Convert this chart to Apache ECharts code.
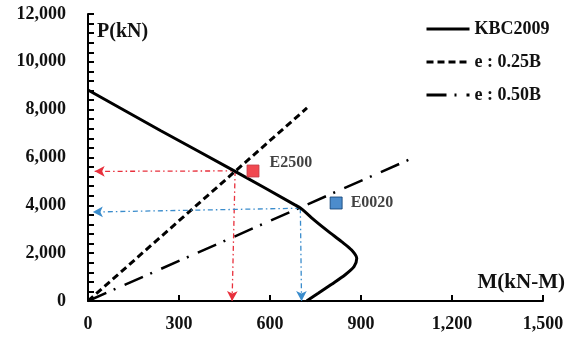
<!DOCTYPE html>
<html>
<head>
<meta charset="utf-8">
<script src="https://cdn.jsdelivr.net/npm/echarts@6/dist/echarts.min.js"></script>
<style>
html,body{margin:0;padding:0;background:#fff;}
#chart{width:573px;height:341px;}
</style>
</head>
<body>
<div id="chart"></div>
<script>
// ---- data ----
const kbcM = [0, 240, 485, 682, 704, 748, 792, 836, 869, 886, 877, 847, 803, 759, 721];
const kbcP = [8820, 7120, 5420, 4020, 3850, 3360, 2910, 2480, 2130, 1785, 1434, 1087, 698, 322, 0];
const e025M = [0, 722];
const e025P = [0, 8070];
const e050M = [0, 1071];
const e050P = [0, 5980];
const specNames = ['E2500', 'E0020'];
const specM = [544, 818];
const specP = [5435, 4097];
// guide arrows: [fromM, fromP, toM, toP]
const redGuides = [[485, 5440, 22, 5420], [485, 5440, 475, 0]];
const blueGuides = [[700, 3880, 16, 3720], [700, 3880, 704, 0]];
const legendNames = ['KBC2009', 'e : 0.25B', 'e : 0.50B'];
const xName = 'M(kN-M)';
const yName = 'P(kN)';

const zip = (a, b) => a.map((v, i) => [v, b[i]]);
const FONT = "'Liberation Serif','Times New Roman',serif";
const TXT = '#111';
const RED = '#e8303c';
const BLUE = '#3a8ccc';

function guideLines(g) {
  return g.map(s => [{coord: [s[0], s[1]]}, {coord: [s[2], s[3]]}]);
}

const chart = echarts.init(document.getElementById('chart'), null, {renderer: 'canvas'});
chart.setOption({
  backgroundColor: '#fff',
  animation: false,
  grid: {left: 88, top: 14, right: 30, bottom: 40, containLabel: false},
  legend: {
    data: legendNames,
    orient: 'vertical',
    left: 420,
    top: 15,
    itemWidth: 43,
    itemHeight: 14,
    itemGap: 15,
    itemStyle: {opacity: 0},
    lineStyle: {width: 3},
    textStyle: {fontFamily: FONT, fontWeight: 'bold', fontSize: 18, color: TXT}
  },
  xAxis: {
    type: 'value', min: 0, max: 1500, interval: 300,
    name: xName, nameLocation: 'end', nameGap: 22,
    nameTextStyle: {fontFamily: FONT, fontWeight: 'bold', fontSize: 21, color: TXT, align: 'right', verticalAlign: 'bottom', padding: [0, 0, 8, 0]},
    axisLine: {lineStyle: {color: '#000', width: 2}},
    axisTick: {inside: true, length: 6, lineStyle: {color: '#000', width: 2}},
    axisLabel: {margin: 14, fontFamily: FONT, fontWeight: 'bold', fontSize: 18, color: TXT,
      formatter: v => v.toLocaleString('en-US')},
    splitLine: {show: false}
  },
  yAxis: {
    type: 'value', min: 0, max: 12000, interval: 2000,
    name: yName, nameLocation: 'end', nameGap: -8,
    nameTextStyle: {fontFamily: FONT, fontWeight: 'bold', fontSize: 20, color: TXT, align: 'left', verticalAlign: 'top', padding: [0, 0, 0, 9]},
    axisLine: {show: true, lineStyle: {color: '#000', width: 2}},
    axisTick: {show: true, inside: true, length: 6, lineStyle: {color: '#000', width: 2}},
    minorTick: {show: true, splitNumber: 5, length: 6, lineStyle: {color: '#000', width: 2}},
    axisLabel: {margin: 22, fontFamily: FONT, fontWeight: 'bold', fontSize: 18, color: TXT,
      formatter: v => v.toLocaleString('en-US')},
    splitLine: {show: false}
  },
  series: [
    {
      name: legendNames[0], type: 'line', data: zip(kbcM, kbcP), smooth: 0.25,
      symbol: 'none', lineStyle: {color: '#000', width: 3}, itemStyle: {color: '#000'}, z: 5
    },
    {
      name: legendNames[1], type: 'line', data: zip(e025M, e025P),
      symbol: 'none', lineStyle: {color: '#000', width: 3, type: [7, 4]}, itemStyle: {color: '#000'}, z: 4
    },
    {
      name: legendNames[2], type: 'line', data: zip(e050M, e050P),
      symbol: 'none', lineStyle: {color: '#000', width: 2.5, type: [20, 8, 2, 10]}, itemStyle: {color: '#000'}, z: 4
    },
    {
      name: 'redGuide', type: 'scatter', data: [], z: 3,
      markLine: {
        silent: true, animation: false, symbol: ['none', 'arrow'], symbolSize: [8, 10],
        label: {show: false},
        lineStyle: {color: RED, width: 1.3, type: [5, 3, 1.5, 3]},
        emphasis: {disabled: true},
        data: guideLines(redGuides)
      }
    },
    {
      name: 'blueGuide', type: 'scatter', data: [], z: 3,
      markLine: {
        silent: true, animation: false, symbol: ['none', 'arrow'], symbolSize: [8, 10],
        label: {show: false},
        lineStyle: {color: BLUE, width: 1.3, type: [5, 3, 1.5, 3]},
        emphasis: {disabled: true},
        data: guideLines(blueGuides)
      }
    },
    {
      name: specNames[0], type: 'scatter', symbol: 'rect', symbolSize: 12, z: 6,
      data: [[specM[0], specP[0]]],
      itemStyle: {color: '#ee1c24', borderColor: '#c0404a', borderWidth: 1},
      label: {show: true, position: 'right', distance: 10, offset: [0, -8], formatter: specNames[0],
        fontFamily: FONT, fontWeight: 'bold', fontSize: 16, color: TXT}
    },
    {
      name: specNames[1], type: 'scatter', symbol: 'rect', symbolSize: 12, z: 6,
      data: [[specM[1], specP[1]]],
      itemStyle: {color: '#1f6fbf', borderColor: '#0d3c70', borderWidth: 1},
      label: {show: true, position: 'right', distance: 8, formatter: specNames[1],
        fontFamily: FONT, fontWeight: 'bold', fontSize: 16, color: TXT}
    }
  ]
});
</script>
</body>
</html>
